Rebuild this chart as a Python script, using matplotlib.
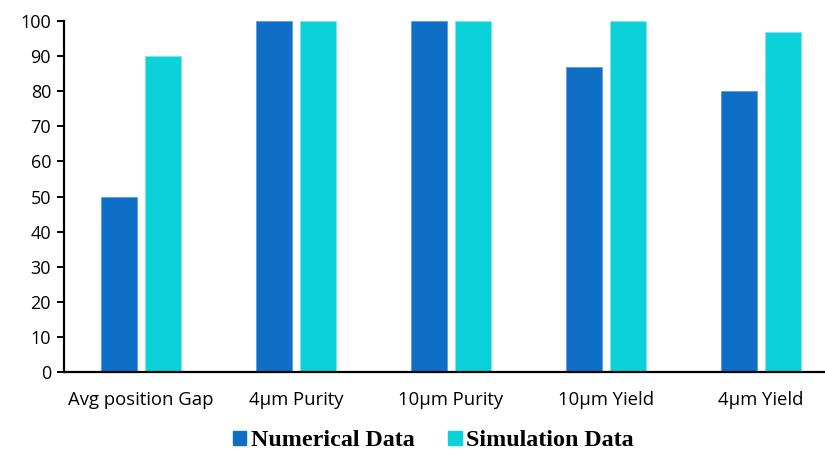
import matplotlib
matplotlib.use("Agg")
import matplotlib.pyplot as plt
import numpy as np
from matplotlib.patches import Patch

categories = ["Avg position Gap", "4µm Purity", "10µm Purity", "10µm Yield", "4µm Yield"]
numerical = [50, 100, 100, 87, 80]
simulation = [90, 100, 100, 100, 97]
yticks = [0, 10, 20, 30, 40, 50, 60, 70, 80, 90, 100]

c_num = "#0F6EC6"
c_sim = "#0BD1D9"

fig = plt.figure(figsize=(8.25, 4.51), dpi=100)
ax = fig.add_axes([63.5/825, 79/451, 775/825, 351/451])

x = np.arange(len(categories))
w = 0.226
off = 0.142
ax.bar(x - off, numerical, w, color=c_num, edgecolor="#5A9BE0", linewidth=0.6)
ax.bar(x + off, simulation, w, color=c_sim, edgecolor="#7FE6EA", linewidth=0.6)

ax.set_xlim(-0.5, len(categories) - 0.5)
ax.set_ylim(0, 100)
ax.set_yticks(yticks)
ax.set_xticks(x)
ax.set_xticklabels(categories)
for s in ["top", "right"]:
    ax.spines[s].set_visible(False)
for s in ["left", "bottom"]:
    ax.spines[s].set_linewidth(1.6)
    ax.spines[s].set_color("black")
ax.tick_params(axis="y", direction="out", length=5, width=1.4, labelsize=13, pad=4)
ax.tick_params(axis="x", length=0, labelsize=13.3, pad=14)
for lab in ax.get_xticklabels() + ax.get_yticklabels():
    lab.set_fontfamily("Open Sans")

handles = [Patch(color=c_num, label="Numerical Data"), Patch(color=c_sim, label="Simulation Data")]
fig.legend(handles=handles, loc="center", bbox_to_anchor=(433.5/825, 1 - 441/451), ncol=2, frameon=False,
           prop={"family": "Liberation Serif", "weight": "bold", "size": 17.3},
           handlelength=0.55, handleheight=0.55, handletextpad=0.2, columnspacing=1.4)

fig.savefig("out.png", dpi=100)
